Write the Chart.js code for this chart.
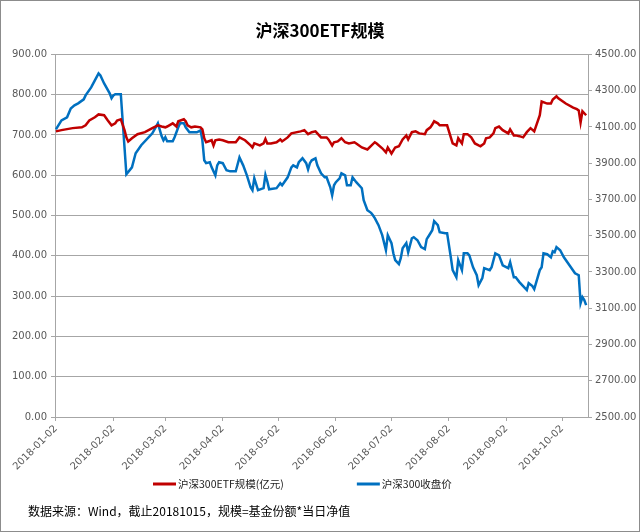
<!DOCTYPE html>
<html>
<head>
<meta charset="utf-8">
<title>沪深300ETF规模</title>
<script src="https://cdn.jsdelivr.net/npm/chart.js@4.4.0/dist/chart.umd.min.js"></script>
<style>
  body { margin: 0; background: #fff; }
  #wrap { width: 640px; height: 532px; box-sizing: border-box; border: 1px solid #8c8c8c; }
</style>
</head>
<body>
<div id="wrap"><canvas id="etfChart"></canvas></div>
<script>
// ETF scale (left axis, 亿元)
const scaleDates = [
  '2018-01-02','2018-01-05','2018-01-11','2018-01-16','2018-01-18','2018-01-20','2018-01-23','2018-01-25','2018-01-28','2018-01-30',
  '2018-02-01','2018-02-03','2018-02-04','2018-02-06','2018-02-08','2018-02-09','2018-02-10','2018-02-12','2018-02-15','2018-02-19',
  '2018-02-23','2018-02-26','2018-02-28','2018-03-02','2018-03-03','2018-03-06','2018-03-08','2018-03-09','2018-03-12','2018-03-13',
  '2018-03-14','2018-03-16','2018-03-18','2018-03-21','2018-03-22','2018-03-23','2018-03-24','2018-03-27','2018-03-28','2018-03-29',
  '2018-03-31','2018-04-02','2018-04-05','2018-04-09','2018-04-11','2018-04-14','2018-04-17','2018-04-18','2018-04-19','2018-04-22',
  '2018-04-24','2018-04-25','2018-04-26','2018-04-28','2018-05-01','2018-05-03','2018-05-04','2018-05-07','2018-05-09','2018-05-14',
  '2018-05-16','2018-05-18','2018-05-20','2018-05-22','2018-05-23','2018-05-25','2018-05-28','2018-05-29','2018-05-31','2018-06-01',
  '2018-06-03','2018-06-05','2018-06-07','2018-06-09','2018-06-12','2018-06-13','2018-06-16','2018-06-19','2018-06-21','2018-06-23',
  '2018-06-24','2018-06-27','2018-06-29','2018-06-30','2018-07-02','2018-07-04','2018-07-06','2018-07-08','2018-07-10','2018-07-11',
  '2018-07-13','2018-07-15','2018-07-17','2018-07-20','2018-07-21','2018-07-23','2018-07-24','2018-07-25','2018-07-27','2018-07-28',
  '2018-08-01','2018-08-03','2018-08-04','2018-08-06','2018-08-07','2018-08-09','2018-08-10','2018-08-12','2018-08-14','2018-08-16',
  '2018-08-18','2018-08-19','2018-08-21','2018-08-22','2018-08-24','2018-08-26','2018-08-27','2018-08-29','2018-08-31','2018-09-03',
  '2018-09-04','2018-09-06','2018-09-07','2018-09-09','2018-09-11','2018-09-13','2018-09-15','2018-09-17','2018-09-20','2018-09-21',
  '2018-09-24','2018-09-26','2018-09-27','2018-09-29','2018-09-30','2018-10-04','2018-10-08','2018-10-10','2018-10-11','2018-10-12',
  '2018-10-13','2018-10-14','2018-10-15'
];
const scaleValues = [
  709,712,717,719,724,736,744,751,749,736,
  724,729,736,739,712,694,684,692,702,707,
  717,724,721,719,721,729,721,734,739,734,
  724,719,721,719,714,692,682,687,674,687,
  689,687,682,682,694,687,674,669,679,674,
  679,690,679,679,682,689,684,694,704,709,
  712,702,707,709,704,694,694,689,674,682,
  684,692,682,679,682,679,669,664,673,682,
  679,667,657,669,654,669,672,689,699,689,
  707,709,704,702,712,719,726,734,729,724,
  724,694,679,674,692,679,702,702,694,679,
  674,672,679,692,694,704,717,721,712,704,
  714,699,699,697,694,707,717,709,749,783,
  778,778,788,796,791,778,768,764,761,731,
  759,754,749
];

// CSI 300 close (right axis)
const indexDates = [
  '2018-01-02','2018-01-05','2018-01-08','2018-01-10','2018-01-12','2018-01-14','2018-01-17','2018-01-18','2018-01-21','2018-01-23',
  '2018-01-25','2018-01-26','2018-01-28','2018-01-31','2018-02-01','2018-02-02','2018-02-03','2018-02-06','2018-02-09','2018-02-12',
  '2018-02-14','2018-02-17','2018-02-23','2018-02-26','2018-02-28','2018-03-01','2018-03-02','2018-03-03','2018-03-06','2018-03-07',
  '2018-03-09','2018-03-10','2018-03-12','2018-03-13','2018-03-15','2018-03-16','2018-03-19','2018-03-21','2018-03-22','2018-03-23',
  '2018-03-24','2018-03-26','2018-03-27','2018-03-29','2018-03-30','2018-03-31','2018-04-02','2018-04-04','2018-04-06','2018-04-09',
  '2018-04-11','2018-04-13','2018-04-15','2018-04-17','2018-04-18','2018-04-19','2018-04-21','2018-04-24','2018-04-25','2018-04-26',
  '2018-04-27','2018-05-01','2018-05-03','2018-05-04','2018-05-07','2018-05-09','2018-05-10','2018-05-12','2018-05-13','2018-05-15',
  '2018-05-17','2018-05-18','2018-05-19','2018-05-20','2018-05-22','2018-05-23','2018-05-25','2018-05-27','2018-05-28','2018-05-30',
  '2018-05-31','2018-06-01','2018-06-02','2018-06-04','2018-06-05','2018-06-07','2018-06-08','2018-06-10','2018-06-11','2018-06-13',
  '2018-06-16','2018-06-17','2018-06-19','2018-06-21','2018-06-22','2018-06-23','2018-06-25','2018-06-27','2018-06-29','2018-06-30',
  '2018-07-02','2018-07-03','2018-07-04','2018-07-06','2018-07-07','2018-07-08','2018-07-10','2018-07-11','2018-07-13','2018-07-14',
  '2018-07-16','2018-07-18','2018-07-20','2018-07-21','2018-07-22','2018-07-24','2018-07-25','2018-07-27','2018-07-28','2018-07-31',
  '2018-08-01','2018-08-03','2018-08-04','2018-08-06','2018-08-07','2018-08-09','2018-08-10','2018-08-12','2018-08-13','2018-08-15',
  '2018-08-17','2018-08-18','2018-08-20','2018-08-21','2018-08-24','2018-08-25','2018-08-27','2018-08-29','2018-08-31','2018-09-03',
  '2018-09-04','2018-09-06','2018-09-07','2018-09-09','2018-09-11','2018-09-13','2018-09-14','2018-09-16','2018-09-17','2018-09-20',
  '2018-09-21','2018-09-22','2018-09-24','2018-09-26','2018-09-27','2018-09-28','2018-09-29','2018-10-01','2018-10-03','2018-10-06',
  '2018-10-09','2018-10-11','2018-10-12','2018-10-13','2018-10-14','2018-10-15'
];
const indexValues = [
  4087,4136,4153,4202,4219,4230,4252,4274,4318,4357,
  4395,4384,4340,4285,4258,4274,4280,4280,3839,3877,
  3955,3999,4065,4120,4050,4026,4043,4021,4021,4043,
  4098,4120,4120,4098,4070,4070,4070,4081,4026,3916,
  3900,3905,3877,3833,3888,3905,3900,3861,3855,3855,
  3932,3888,3833,3767,3751,3817,3751,3762,3835,3800,
  3756,3762,3789,3778,3822,3877,3888,3877,3905,3927,
  3900,3866,3900,3916,3927,3888,3844,3822,3822,3767,
  3723,3778,3795,3817,3844,3833,3778,3778,3822,3795,
  3762,3696,3641,3626,3613,3597,3558,3503,3420,3503,
  3459,3403,3365,3343,3376,3431,3459,3409,3486,3492,
  3475,3437,3426,3481,3497,3530,3580,3558,3519,3514,
  3514,3381,3310,3271,3365,3310,3403,3403,3392,3326,
  3282,3227,3266,3321,3310,3326,3403,3392,3337,3321,
  3354,3271,3271,3244,3222,3200,3238,3222,3205,3310,
  3326,3403,3398,3381,3414,3409,3437,3420,3381,3337,
  3293,3282,3128,3161,3145,3117
];

const tickDates = ['2018-01-02','2018-02-02','2018-03-02','2018-04-02','2018-05-02',
                   '2018-06-02','2018-07-02','2018-08-02','2018-09-02','2018-10-02'];
const seriesNames = ['沪深300ETF规模(亿元)', '沪深300收盘价'];
const chartTitle = '沪深300ETF规模';
const sourceNote = '数据来源：Wind，截止20181015，规模=基金份额*当日净值';

const START = Date.UTC(2018, 0, 2);
function dayOf(s) {
    const p = s.split('-').map(Number);
    return (Date.UTC(p[0], p[1] - 1, p[2]) - START) / 86400000;
}
function toPoints(dates, values) {
    return dates.map((d, i) => ({ x: dayOf(d), y: values[i] }));
}
const tickDays = tickDates.map(dayOf);

const numFont = { family: '"DejaVu Sans", sans-serif', size: 10 };
const gridGray = '#a6a6a6';
const labelGray = '#595959';

// legend + source note drawn under the axis
const bottomText = {
    id: 'bottomText',
    afterDraw(chart) {
        const ctx = chart.ctx;
        ctx.save();
        ctx.textBaseline = 'middle';
        ctx.font = '10.5px "Noto Sans CJK SC"';
        let x = 152;
        const y = chart.height - 47;
        chart.data.datasets.forEach(ds => {
            ctx.strokeStyle = ds.borderColor;
            ctx.lineWidth = 3;
            ctx.beginPath();
            ctx.moveTo(x, y);
            ctx.lineTo(x + 23, y);
            ctx.stroke();
            ctx.fillStyle = '#222';
            ctx.fillText(ds.label, x + 25, y);
            x += 25 + ctx.measureText(ds.label).width + 73;
        });
        ctx.font = '12px "Noto Sans CJK SC"';
        ctx.fillStyle = '#000';
        ctx.fillText(sourceNote, 27, chart.height - 20);
        ctx.restore();
    }
};

new Chart(document.getElementById('etfChart'), {
    type: 'line',
    data: {
        datasets: [
            {
                label: seriesNames[0],
                data: toPoints(scaleDates, scaleValues),
                borderColor: '#c00000',
                backgroundColor: '#c00000',
                borderWidth: 2.5,
                pointRadius: 0,
                yAxisID: 'y'
            },
            {
                label: seriesNames[1],
                data: toPoints(indexDates, indexValues),
                borderColor: '#0070c0',
                backgroundColor: '#0070c0',
                borderWidth: 2.5,
                pointRadius: 0,
                yAxisID: 'y1'
            }
        ]
    },
    options: {
        responsive: true,
        maintainAspectRatio: false,
        animation: false,
        layout: { padding: { left: 0, right: 0, top: 0, bottom: 54 } },
        plugins: {
            legend: { display: false },
            tooltip: { enabled: false },
            title: {
                display: true,
                text: chartTitle,
                color: '#000',
                font: { family: '"Noto Sans CJK SC"', size: 17, weight: 'bold' },
                padding: { top: 19, bottom: 14 }
            }
        },
        scales: {
            x: {
                type: 'linear',
                min: -0.5,
                max: 287,
                afterBuildTicks: scale => { scale.ticks = tickDays.map(v => ({ value: v })); },
                afterFit: scale => { scale.height = 60; },
                grid: { drawOnChartArea: false, drawTicks: true, tickLength: 4, color: gridGray },
                border: { color: gridGray },
                ticks: {
                    autoSkip: false,
                    minRotation: 45,
                    maxRotation: 45,
                    padding: 2,
                    color: labelGray,
                    font: numFont,
                    callback: (value, index) => tickDates[index]
                }
            },
            y: {
                position: 'left',
                min: 0,
                max: 900,
                afterFit: scale => { scale.width = 54; },
                grid: { color: gridGray, tickLength: 4 },
                border: { color: gridGray },
                ticks: {
                    stepSize: 100,
                    padding: 4,
                    color: labelGray,
                    font: numFont,
                    callback: v => v.toFixed(2)
                }
            },
            y1: {
                position: 'right',
                min: 2500,
                max: 4500,
                afterFit: scale => { scale.width = 51; },
                grid: { drawOnChartArea: false, tickLength: 4, color: gridGray },
                border: { color: gridGray },
                ticks: {
                    stepSize: 200,
                    padding: 3,
                    color: labelGray,
                    font: numFont,
                    callback: v => v.toFixed(2)
                }
            }
        }
    },
    plugins: [bottomText]
});
</script>
</body>
</html>
